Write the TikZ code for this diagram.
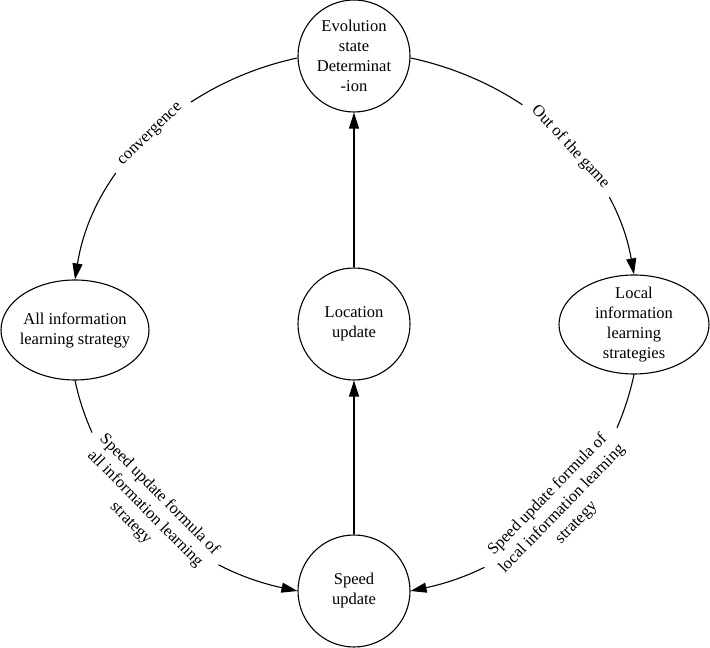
\documentclass[tikz,border=0pt]{standalone}
\usepackage{fontspec}
\setmainfont{Liberation Serif}
\usetikzlibrary{arrows.meta,shapes.geometric}
\begin{document}
\begin{tikzpicture}[x=1pt,y=1pt,
  every node/.style={font=\fontsize{16.5}{20}\selectfont, align=center},
  stnode/.style={draw, line width=1.1pt, circle, minimum size=112pt, inner sep=0pt},
  elnode/.style={draw, line width=1.1pt, ellipse, inner sep=-12pt},
  arr/.style={line width=1.1pt, -{Triangle[length=16pt,width=10pt]}},
  lab/.style={fill=white, inner xsep=10pt, inner ysep=3pt, sloped}
]
\useasboundingbox (0,0) rectangle (710,648);
\node[stnode] (top) at (354,592) {Evolution\\state\\Determinat\\-ion};
\node[stnode] (loc) at (354,324) {Location\\update};
\node[stnode] (speed) at (354,57) {Speed\\update};
\node[elnode, minimum width=148pt, minimum height=100pt] (left) at (75,318) {All information\\learning strategy};
\node[elnode, minimum width=150pt, minimum height=99pt] (right) at (634,323.5) {Local\\information\\learning\\strategies};

\draw[arr] (speed) -- (loc);
\draw[arr] (loc) -- (top);

\draw[arr] (top.182) to[out=192, in=81, distance=115pt]
  node[lab, pos=0.5] {convergence} (left.north);
\draw[arr] (top.-2) to[out=-12, in=100, distance=114pt]
  node[lab, pos=0.56] {Out of the game} (right.north);
\draw[arr] (left.south) to[out=-78, in=168, distance=111pt]
  node[lab, pos=0.46] {Speed update formula of\\all information learning\\strategy} (speed.west);
\draw[arr] (right.south) to[out=258, in=12, distance=114pt]
  node[lab, pos=0.47] {Speed update formula of\\local information learning\\strategy} (speed.east);
\end{tikzpicture}
\end{document}
